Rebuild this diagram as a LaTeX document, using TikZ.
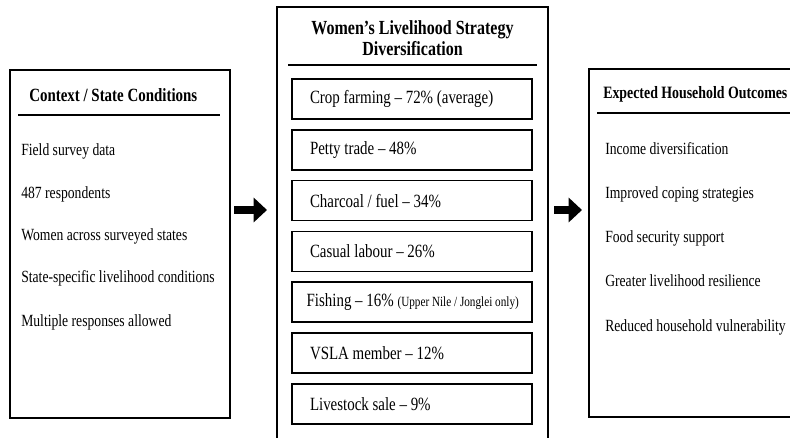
\documentclass[tikz,border=0pt]{standalone}
\usepackage{fontspec}
\setmainfont{Liberation Serif}[FakeStretch=0.8]
\usetikzlibrary{arrows.meta, positioning}

\begin{document}
\begin{tikzpicture}[x=0.75pt,y=-0.75pt,
      node distance=7pt,
      panel/.style={draw,line width=1.5pt,inner sep=0pt},
      head/.style={font=\bfseries\fontsize{14}{15.75}\selectfont,inner sep=0pt,anchor=base west},
      item/.style={anchor=base west,inner sep=0pt,font=\fontsize{12.8}{15}\selectfont},
      stratbox/.style={draw,line width=1.1pt,minimum height=30pt,text width=153pt,
                       inner xsep=13.5pt,inner ysep=0pt,align=flush left,font=\fontsize{14}{16}\selectfont},
      rule/.style={line width=1.1pt},
      flow/.style={-{Triangle[length=10pt,width=18pt]},line width=6pt}]
    \clip (0,0) rectangle (790,438);
    \fill[white] (0,0) rectangle (790,438);
    % three panels
    \node[panel,minimum width=165pt,minimum height=261pt] (ctx) at (120,244) {};
    \node[panel,minimum width=203.25pt,minimum height=339.75pt] (strat) at (412.5,233.5) {};
    \node[panel,minimum width=165pt,minimum height=261pt] (res) at (699,243) {};
    % left panel
    \node[head] (ctx-t) at (29,102) {Context / State Conditions};
    \draw[rule] (18,115) -- (220,115);
    \node[item] (c1) at (21,156) {Field survey data};
    \node[item] (c2) at (21,199) {487 respondents};
    \node[item] (c3) at (21,241) {Women across surveyed states};
    \node[item] (c4) at (21,283) {State-specific livelihood conditions};
    \node[item] (c5) at (21,327) {Multiple responses allowed};
    % middle panel
    \node[head,anchor=center,align=center,font=\bfseries\fontsize{15}{15.75}\selectfont]
      (strat-t) at (412.5,38) {Women’s Livelihood Strategy\\Diversification};
    \draw[rule] (288,65) -- (537,65);
    \node[stratbox] (s1) at (412,99) {Crop farming -- 72\% (average)};
    \node[stratbox,below=of s1] (s2) {Petty trade -- 48\%};
    \node[stratbox,below=of s2] (s3) {Charcoal / fuel -- 34\%};
    \node[stratbox,below=of s3] (s4) {Casual labour -- 26\%};
    \node[stratbox,below=of s4,inner xsep=11pt,text width=158pt] (s5)
      {\mbox{Fishing -- 16\% {\fontsize{10.5}{12}\selectfont(Upper Nile / Jonglei only)}}};
    \node[stratbox,below=of s5] (s6) {VSLA member -- 12\%};
    \node[stratbox,below=of s6] (s7) {Livestock sale -- 9\%};
    % right panel
    \node[head,font=\bfseries\fontsize{13}{15}\selectfont] (res-t) at (603,99) {Expected Household Outcomes};
    \draw[rule] (597,113) -- (790,113);
    \node[item] (r1) at (605,155) {Income diversification};
    \node[item] (r2) at (605,199) {Improved coping strategies};
    \node[item] (r3) at (605,243) {Food security support};
    \node[item] (r4) at (605,287) {Greater livelihood resilience};
    \node[item] (r5) at (605,332) {Reduced household vulnerability};
    % arrows
    \draw[flow,shorten <=2.25pt,shorten >=6.75pt] (ctx.east |- 0,210) -- (strat.west |- 0,210);
    \draw[flow,shorten <=3.75pt,shorten >=4.5pt] (strat.east |- 0,210) -- (res.west |- 0,210);
  \end{tikzpicture}
\end{document}
